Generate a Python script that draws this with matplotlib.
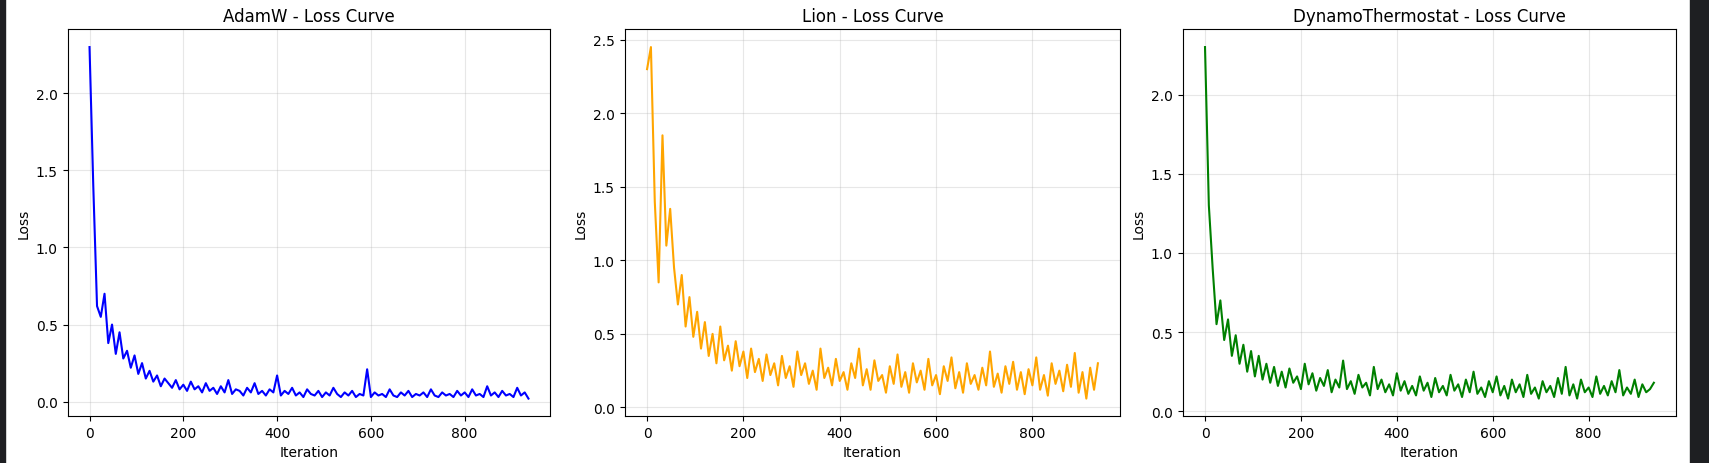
import numpy as np
import matplotlib.pyplot as plt
from matplotlib.patches import Rectangle

step = 8

adamw_loss = [
    2.30, 1.40, 0.62, 0.55, 0.70, 0.38, 0.50, 0.31, 0.45, 0.28,
    0.33, 0.22, 0.30, 0.18, 0.25, 0.15, 0.20, 0.13, 0.17, 0.10,
    0.15, 0.12, 0.09, 0.14, 0.08, 0.11, 0.07, 0.13, 0.08, 0.10,
    0.06, 0.12, 0.07, 0.09, 0.05, 0.10, 0.06, 0.14, 0.05, 0.08,
    0.07, 0.04, 0.09, 0.06, 0.12, 0.05, 0.07, 0.04, 0.08, 0.06,
    0.17, 0.04, 0.07, 0.05, 0.09, 0.04, 0.06, 0.03, 0.08, 0.05,
    0.04, 0.07, 0.03, 0.06, 0.04, 0.09, 0.05, 0.03, 0.06, 0.04,
    0.07, 0.03, 0.05, 0.04, 0.21, 0.03, 0.06, 0.04, 0.05, 0.03,
    0.08, 0.04, 0.03, 0.06, 0.04, 0.07, 0.03, 0.05, 0.04, 0.06,
    0.03, 0.08, 0.04, 0.03, 0.06, 0.04, 0.05, 0.03, 0.07, 0.04,
    0.06, 0.03, 0.08, 0.04, 0.05, 0.03, 0.10, 0.04, 0.06, 0.03,
    0.07, 0.04, 0.05, 0.03, 0.09, 0.04, 0.06, 0.02,
]

lion_loss = [
    2.30, 2.45, 1.40, 0.85, 1.85, 1.10, 1.35, 0.95, 0.70, 0.90,
    0.55, 0.75, 0.48, 0.65, 0.40, 0.58, 0.35, 0.50, 0.30, 0.55,
    0.32, 0.42, 0.25, 0.45, 0.28, 0.38, 0.20, 0.40, 0.24, 0.33,
    0.18, 0.36, 0.22, 0.30, 0.15, 0.35, 0.20, 0.28, 0.14, 0.38,
    0.22, 0.30, 0.16, 0.25, 0.12, 0.40, 0.20, 0.27, 0.15, 0.33,
    0.18, 0.24, 0.12, 0.30, 0.20, 0.40, 0.15, 0.26, 0.12, 0.32,
    0.18, 0.22, 0.10, 0.28, 0.16, 0.36, 0.14, 0.24, 0.10, 0.30,
    0.17, 0.25, 0.12, 0.33, 0.15, 0.22, 0.09, 0.28, 0.18, 0.34,
    0.13, 0.24, 0.10, 0.30, 0.16, 0.22, 0.12, 0.27, 0.15, 0.38,
    0.14, 0.23, 0.10, 0.28, 0.16, 0.31, 0.12, 0.24, 0.09, 0.26,
    0.15, 0.34, 0.12, 0.22, 0.08, 0.30, 0.16, 0.25, 0.11, 0.29,
    0.14, 0.37, 0.10, 0.24, 0.06, 0.27, 0.12, 0.30,
]

dynamo_loss = [
    2.30, 1.30, 0.90, 0.55, 0.70, 0.45, 0.58, 0.35, 0.48, 0.30,
    0.42, 0.25, 0.38, 0.22, 0.35, 0.20, 0.30, 0.18, 0.28, 0.16,
    0.25, 0.15, 0.27, 0.18, 0.22, 0.14, 0.30, 0.17, 0.24, 0.13,
    0.21, 0.16, 0.26, 0.12, 0.20, 0.15, 0.32, 0.14, 0.19, 0.11,
    0.23, 0.15, 0.18, 0.10, 0.28, 0.14, 0.20, 0.12, 0.17, 0.10,
    0.24, 0.13, 0.19, 0.11, 0.16, 0.10, 0.22, 0.13, 0.18, 0.09,
    0.21, 0.12, 0.16, 0.10, 0.23, 0.13, 0.17, 0.09, 0.20, 0.12,
    0.25, 0.11, 0.15, 0.09, 0.19, 0.12, 0.22, 0.10, 0.16, 0.08,
    0.20, 0.12, 0.17, 0.09, 0.23, 0.11, 0.15, 0.08, 0.19, 0.12,
    0.16, 0.09, 0.21, 0.11, 0.28, 0.10, 0.17, 0.08, 0.20, 0.12,
    0.15, 0.09, 0.22, 0.11, 0.16, 0.10, 0.19, 0.12, 0.26, 0.10,
    0.15, 0.11, 0.20, 0.09, 0.17, 0.12, 0.14, 0.18,
]

titles = ["AdamW", "Lion", "DynamoThermostat"]
series = [adamw_loss, lion_loss, dynamo_loss]
colors = ["blue", "orange", "green"]

fig = plt.figure(figsize=(17.09, 4.64), dpi=100)
W, H = 1568, 426
boxes = [(62, 505), (573, 1028), (1085, 1538)]
top, bottom = 28, 383

for (l, r), name, loss, c in zip(boxes, titles, series, colors):
    ax = fig.add_axes([l / W, 1 - bottom / H, (r - l) / W, (bottom - top) / H])
    x = np.arange(len(loss)) * step
    ax.plot(x, loss, color=c, linewidth=1.5)
    ax.set_title(f"{name} - Loss Curve")
    ax.set_xlabel("Iteration")
    ax.set_ylabel("Loss")
    ax.grid(True, alpha=0.3)

# dark screenshot borders
fig.patches.append(Rectangle((0, 0), 5 / W, 1, transform=fig.transFigure,
                             color="#1e1f22", zorder=-1))
fig.patches.append(Rectangle((1551 / W, 0), 17 / W, 1, transform=fig.transFigure,
                             color="#1e1f22", zorder=-1))

fig.savefig("out.png", dpi=100)
